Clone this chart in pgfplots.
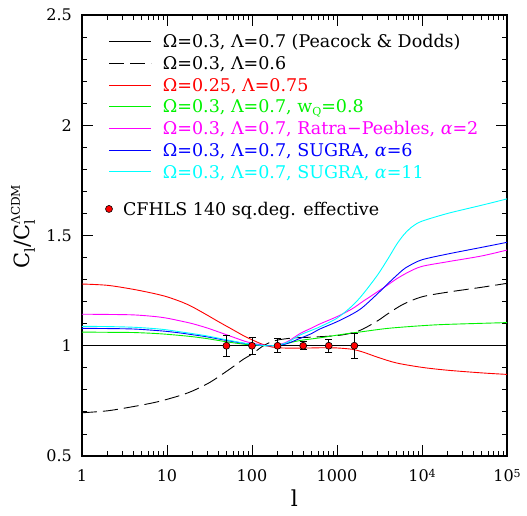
\documentclass[border=0pt]{standalone}
\usepackage{fontspec}
\setmainfont{DejaVu Serif}
\usepackage{pgfplots}
\pgfplotsset{compat=1.18}
\definecolor{pgred}{rgb}{1,0,0}
\definecolor{pggreen}{rgb}{0,0.95,0}
\definecolor{pgblue}{rgb}{0,0,1}
\definecolor{pgmag}{rgb}{1,0,1}
\definecolor{pgcyan}{rgb}{0,1,1}
\begin{document}
\begin{tikzpicture}
\path[use as bounding box] (-82bp,-60bp) rectangle (445bp,456bp);
\begin{axis}[
  at={(0,0)}, anchor=south west,
  scale only axis, width=425bp, height=441bp,
  xmode=log, xmin=1, xmax=100000, ymin=0.5, ymax=2.5,
  xtick={1,10,100,1000,10000,100000},
  xticklabels={1,10,100,1000,10\raisebox{4bp}{\fontsize{11bp}{11bp}\selectfont 4},10\raisebox{4bp}{\fontsize{11bp}{11bp}\selectfont 5}},
  ytick={0.5,1,1.5,2,2.5}, yticklabels={0.5,1,1.5,2,2.5},
  minor y tick num=4,
  xtick pos=both, ytick pos=both, xticklabel pos=lower, yticklabel pos=left,
  tick align=inside, major tick length=11bp, minor tick length=5bp,
  every tick/.style={black, line width=0.9bp},
  axis line style={black, line width=1.2bp},
  xticklabel style={anchor=base, yshift=-25bp, font=\fontsize{16bp}{18bp}\selectfont},
  yticklabel style={anchor=east, inner sep=0pt, xshift=-10bp, font=\fontsize{16bp}{18bp}\selectfont},
  xlabel={l},
  every axis x label/.style={at={(axis description cs:0.5,0)}, anchor=center, yshift=-42bp, font=\fontsize{22bp}{24bp}\selectfont},
  ylabel={C\raisebox{-5bp}{\fontsize{14bp}{14bp}\selectfont l}/C\rlap{\raisebox{-5bp}{\fontsize{14bp}{14bp}\selectfont l}}\raisebox{10bp}{\fontsize{12bp}{12bp}\selectfont ΛCDM}},
  every axis y label/.style={at={(axis description cs:0,0.5)}, xshift=-59bp, yshift=9bp, rotate=90, anchor=center, font=\fontsize{21bp}{24bp}\selectfont},
  legend image code/.code={\draw[#1] (0bp,1.5bp) -- (42bp,1.5bp);},
  legend cell align=left,
  legend style={at={(axis description cs:0,1)}, anchor=north west, xshift=27bp, yshift=-19.9bp,
    draw=none, fill=none, inner sep=0pt, outer sep=0pt, row sep=5.2bp, column sep=11bp,
    font=\fontsize{17.5bp}{20bp}\selectfont,
    nodes={inner sep=0pt, text height=13bp, text depth=3.5bp}},
]
\addplot[black, line width=0.9bp] coordinates {(1,1) (100000,1)};
\addlegendentry{Ω=0.3, Λ=0.7 (Peacock \& Dodds)}
\addplot[black, line width=0.9bp, dash pattern=on 15bp off 6bp, smooth] coordinates {
(1,0.696)(2,0.705)(4,0.724)(7,0.742)(10,0.757)(15,0.777)(20,0.795)(30,0.828)(40,0.858)(60,0.905)(80,0.94)(100,0.962)(130,0.995)(160,1.014)(200,1.026)(300,1.035)(500,1.039)(1000,1.046)(1500,1.058)(2000,1.075)(3000,1.113)(4000,1.146)(6000,1.188)(10000,1.222)(20000,1.243)(50000,1.265)(100000,1.283)};
\addlegendentry{Ω=0.3, Λ=0.6}
\addplot[pgred, line width=0.9bp, smooth] coordinates {
(1,1.28)(2,1.274)(4,1.256)(7,1.237)(10,1.222)(15,1.198)(20,1.176)(30,1.138)(40,1.11)(60,1.072)(80,1.045)(100,1.027)(130,1.008)(160,0.997)(200,0.991)(300,0.989)(500,0.99)(700,0.991)(1000,0.99)(1500,0.984)(2000,0.972)(3000,0.948)(5000,0.922)(10000,0.902)(20000,0.889)(50000,0.877)(100000,0.870)};
\addlegendentry[text=pgred]{Ω=0.25, Λ=0.75}
\addplot[pggreen, line width=0.9bp, smooth] coordinates {
(1,1.062)(2,1.061)(4,1.06)(7,1.056)(10,1.052)(15,1.046)(20,1.041)(30,1.032)(50,1.018)(80,1.007)(100,1.004)(130,1.001)(170,1.0)(250,1.01)(370,1.024)(630,1.036)(1000,1.048)(1500,1.058)(2000,1.064)(4000,1.079)(10000,1.091)(20000,1.097)(100000,1.105)};
\addlegendentry[text=pggreen]{Ω=0.3, Λ=0.7, w\raisebox{-3bp}{\fontsize{11bp}{11bp}\selectfont Q}=0.8}
\addplot[pgmag, line width=0.9bp, smooth] coordinates {
(1,1.143)(2,1.142)(4,1.14)(7,1.133)(10,1.125)(15,1.111)(20,1.1)(30,1.08)(50,1.05)(80,1.022)(100,1.012)(130,1.004)(170,1.0)(250,1.015)(370,1.056)(500,1.08)(630,1.099)(1000,1.132)(1500,1.167)(2000,1.2)(3000,1.245)(4000,1.277)(5000,1.303)(7000,1.335)(10000,1.36)(20000,1.381)(50000,1.407)(100000,1.434)};
\addlegendentry[text=pgmag]{Ω=0.3, Λ=0.7, Ratra−Peebles, \textit{α}=2}
\addplot[pgblue, line width=0.9bp, smooth] coordinates {
(1,1.079)(2,1.078)(4,1.076)(7,1.07)(10,1.065)(15,1.057)(20,1.05)(30,1.04)(50,1.024)(80,1.011)(100,1.006)(130,1.002)(170,1.0)(250,1.008)(370,1.034)(500,1.055)(630,1.076)(1000,1.109)(1500,1.143)(2000,1.174)(3000,1.236)(4000,1.283)(5000,1.318)(6000,1.345)(7000,1.362)(10000,1.39)(20000,1.416)(50000,1.446)(100000,1.469)};
\addlegendentry[text=pgblue]{Ω=0.3, Λ=0.7, SUGRA, \textit{α}=6}
\addplot[pgcyan, line width=0.9bp, smooth] coordinates {
(1,1.088)(2,1.087)(4,1.084)(7,1.078)(10,1.072)(15,1.062)(20,1.055)(30,1.044)(50,1.027)(80,1.012)(100,1.007)(130,1.002)(170,1.0)(250,1.012)(370,1.049)(500,1.07)(630,1.086)(1000,1.125)(1500,1.18)(2000,1.232)(3000,1.321)(4000,1.396)(5000,1.458)(6000,1.5)(7000,1.527)(8000,1.545)(10000,1.565)(20000,1.6)(50000,1.637)(100000,1.666)};
\addlegendentry[text=pgcyan]{Ω=0.3, Λ=0.7, SUGRA, \textit{α}=11}
\end{axis}
\begin{axis}[
  at={(0,0)}, anchor=south west,
  scale only axis, width=425bp, height=441bp,
  xmode=log, xmin=1, xmax=100000, ymin=0.5, ymax=2.5,
  hide axis,
  legend image code/.code={\draw[#1] plot coordinates {(3.5bp,1.5bp)};},
  legend cell align=left,
  legend style={at={(axis description cs:0,1)}, anchor=north west, xshift=23.5bp, yshift=-187.2bp,
    draw=none, fill=none, inner sep=0pt, outer sep=0pt, column sep=10.5bp,
    font=\fontsize{17.5bp}{20bp}\selectfont,
    nodes={inner sep=0pt, text height=13bp, text depth=3.5bp}},
]
\addlegendimage{only marks, mark=*, mark size=3.5bp, mark options={fill=red, draw=black, line width=0.6bp}}
\addlegendentry{CFHLS 140 sq.deg. effective}
\addplot[only marks, mark=*, mark size=3.5bp, mark options={fill=red, draw=black, line width=0.6bp}, forget plot,
  error bars/.cd, y dir=both, y explicit,
  error bar style={black, line width=0.8bp},
  error mark options={rotate=90, mark size=3.5bp, black, line width=0.8bp}]
  coordinates {(50,1) +- (0,0.048) (100,1) +- (0,0.04) (200,1) +- (0,0.032) (400,1) +- (0,0.018) (800,1) +- (0,0.03) (1600,1) +- (0,0.056)};
\end{axis}
\end{tikzpicture}
\end{document}
